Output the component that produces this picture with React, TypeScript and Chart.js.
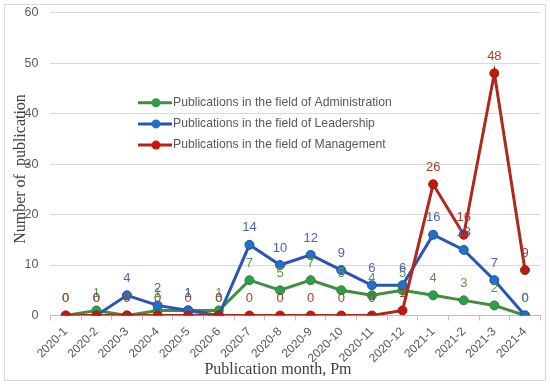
import React, { useEffect, useRef } from 'react';
import { Chart, registerables } from 'chart.js';
Chart.register(...registerables);

const categories = ['2020-1','2020-2','2020-3','2020-4','2020-5','2020-6','2020-7','2020-8','2020-9','2020-10','2020-11','2020-12','2021-1','2021-2','2021-3','2021-4'];
const administration = [0, 1, 0, 1, 1, 1, 7, 5, 7, 5, 4, 5, 4, 3, 2, 0];
const leadership = [null, 0, 4, 2, 1, 0, 14, 10, 12, 9, 6, 6, 16, 13, 7, 0];
const management = [0, 0, 0, 0, 0, 0, 0, 0, 0, 0, 0, 1, 26, 16, 48, 9];
const seriesNames = [
  'Publications in the field of Administration',
  'Publications in the field of Leadership',
  'Publications in the field of Management',
];
const yMin = 0;
const yMax = 60;
const yStep = 10;
const yTitle = 'Number of  publication';
const xTitle = 'Publication month, Pm';

const lineColors = ['#3f8f3f', '#2b55b5', '#b3261b'];
const pointColors = ['#2e9e4a', '#1f72c6', '#c8160f'];
const pointBorders = ['#3a7f3a', '#24509f', '#7a3512'];
const labelColors = ['#5b9a45', '#4d62c0', '#a8402a'];

const overlay = {
  id: 'overlay',
  afterDatasetsDraw(chart: any) {
    const ctx = chart.ctx;
    ctx.save();
    ctx.font = '13px "Liberation Sans"';
    ctx.textAlign = 'center';
    ctx.textBaseline = 'middle';
    chart.data.datasets.forEach((ds: any, i: number) => {
      const meta = chart.getDatasetMeta(i);
      ctx.fillStyle = ds.labelColor;
      meta.data.forEach((pt: any, j: number) => {
        const v = ds.data[j];
        if (v == null) return;
        ctx.fillText(String(v), pt.x, pt.y - 17);
      });
    });
    ctx.restore();
  },
  afterDraw(chart: any) {
    const ctx = chart.ctx;
    ctx.save();
    // legend
    const legendX = 138;
    const legendY = 102.7;
    const rowH = 21.2;
    seriesNames.forEach((name, i) => {
      const y = legendY + i * rowH;
      ctx.strokeStyle = lineColors[i];
      ctx.lineWidth = 3;
      ctx.beginPath();
      ctx.moveTo(legendX, y);
      ctx.lineTo(legendX + 34, y);
      ctx.stroke();
      ctx.fillStyle = pointColors[i];
      ctx.beginPath();
      ctx.arc(legendX + 18, y, 4.5, 0, Math.PI * 2);
      ctx.fill();
      ctx.fillStyle = '#595959';
      ctx.font = '12.2px "Liberation Sans"';
      ctx.textAlign = 'left';
      ctx.textBaseline = 'middle';
      ctx.fillText(name, legendX + 35, y);
    });
    // axis titles
    ctx.fillStyle = '#404040';
    ctx.font = '16px "Liberation Serif"';
    ctx.textAlign = 'center';
    ctx.textBaseline = 'middle';
    ctx.fillText(xTitle, 278, 370);
    ctx.translate(21, 169);
    ctx.rotate(-Math.PI / 2);
    ctx.fillText(yTitle, 0, 0);
    ctx.restore();
  },
};

export default function App() {
  const ref = useRef<HTMLCanvasElement>(null);
  useEffect(() => {
    document.body.style.margin = '0';
    const ds = [administration, leadership, management].map((data, i) => ({
      label: seriesNames[i],
      data,
      borderColor: lineColors[i],
      backgroundColor: pointColors[i],
      pointBackgroundColor: pointColors[i],
      pointBorderColor: pointBorders[i],
      pointBorderWidth: 1,
      pointRadius: 4.5,
      borderWidth: 3,
      tension: 0,
      spanGaps: false,
      order: 2 - i,
      labelColor: labelColors[i],
    }));
    const chart = new Chart(ref.current!, {
      type: 'line',
      data: { labels: categories, datasets: ds as any },
      options: {
        animation: false,
        responsive: true,
        maintainAspectRatio: false,
        layout: { padding: { left: 0, right: 9.7, top: 12.7, bottom: 0 } },
        plugins: { legend: { display: false }, tooltip: { enabled: false } },
        scales: {
          x: {
            offset: true,
            grid: { offset: true, drawOnChartArea: false, drawTicks: true, tickLength: 5, color: '#bfbfbf' },
            border: { display: true, color: '#bfbfbf', width: 1 },
            ticks: {
              minRotation: 45,
              maxRotation: 45,
              autoSkip: false,
              padding: 4,
              color: '#595959',
              font: { family: '"Liberation Sans"', size: 12 },
            },
            afterFit: (s: any) => { s.height = 71.5; s.paddingLeft = 0; s.paddingRight = 0; s.paddingTop = 0; s.paddingBottom = 0; },
          },
          y: {
            min: yMin,
            max: yMax,
            ticks: {
              stepSize: yStep,
              padding: 12,
              color: '#595959',
              font: { family: '"Liberation Sans"', size: 12.5 },
            },
            grid: { color: '#d9d9d9', drawTicks: false, lineWidth: 1 },
            border: { display: false },
            afterFit: (s: any) => { s.width = 50.4; s.paddingTop = 0; s.paddingBottom = 0; s.paddingLeft = 0; s.paddingRight = 0; },
          },
        },
      },
      plugins: [overlay],
    });
    return () => chart.destroy();
  }, []);
  return (
    <div style={{ position: 'relative', width: 550, height: 387, background: '#fff' }}>
      <div style={{ position: 'absolute', left: 4, top: 4, width: 540, height: 375, border: '1px solid #d9d9d9' }} />
      <div style={{ position: 'absolute', left: 0, top: 0, width: 550, height: 387 }}>
        <canvas ref={ref} />
      </div>
    </div>
  );
}
